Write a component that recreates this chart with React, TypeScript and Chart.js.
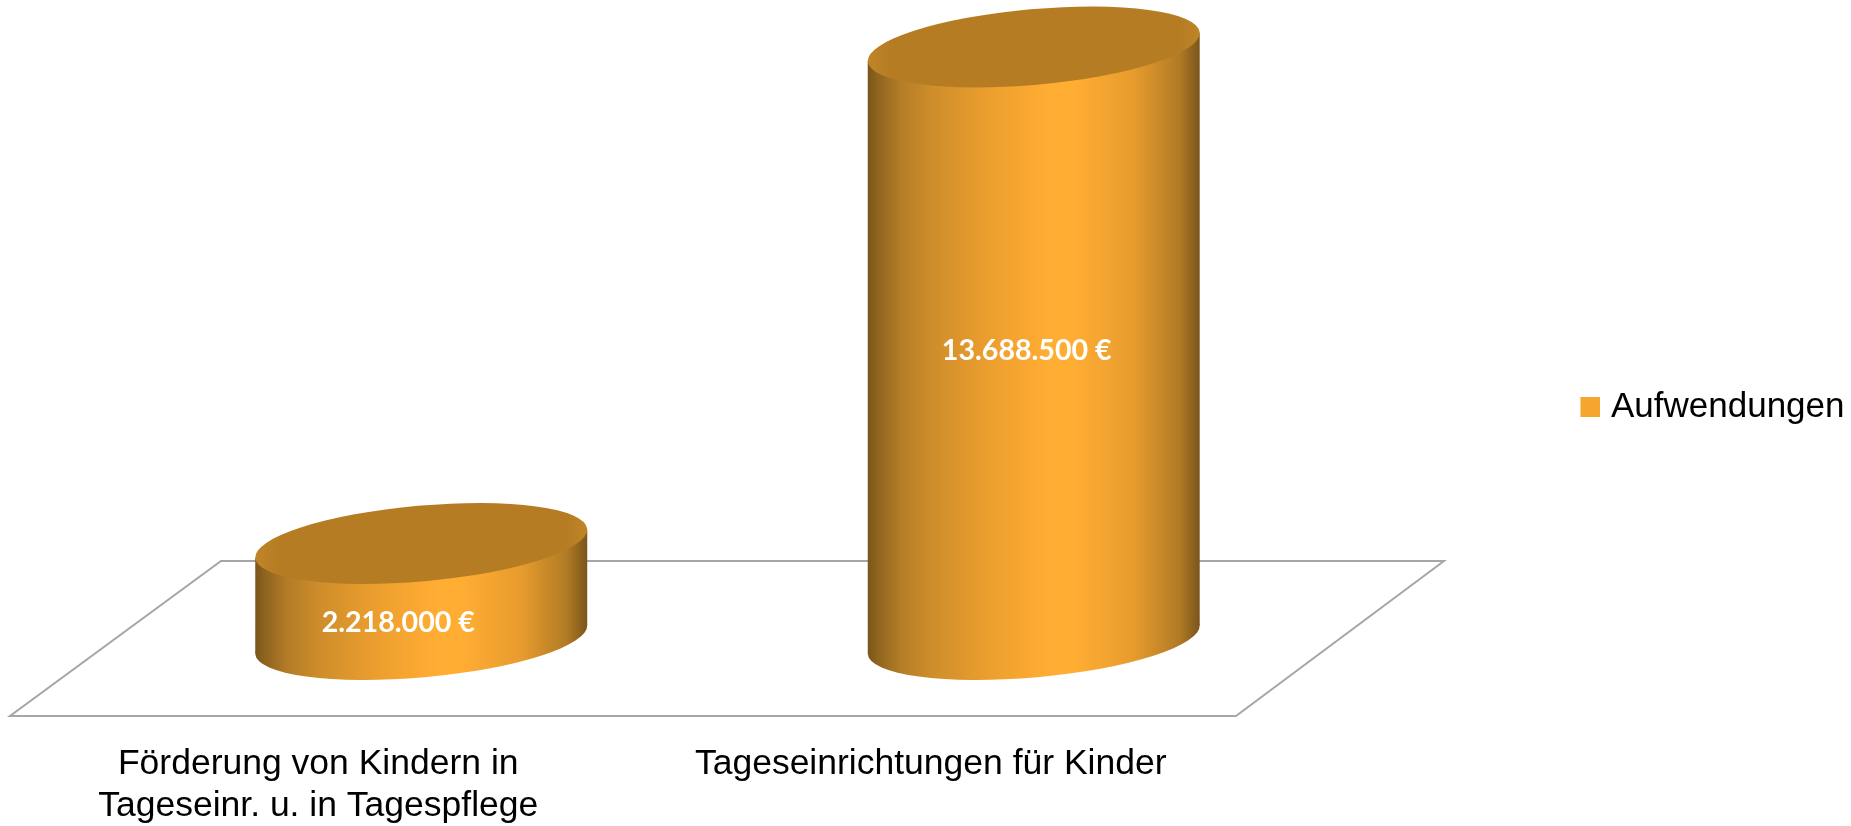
import React, { useEffect, useRef } from "react";
import { Chart, registerables } from "chart.js";

Chart.register(...registerables);

const categories = [
  ["Förderung von Kindern in", "Tageseinr. u. in Tagespflege"],
  "Tageseinrichtungen für Kinder",
];
const seriesName = "Aufwendungen";
const aufwendungen = [2218000, 13688500];
const labelShiftX = [-23, -7];
const labelShiftY = [31, 8];

const SWATCH = "#f4a62f";
const TOP_FILL = "#b67c23";

const FLOOR = { frontOut: 105, backIn: 105, depth: 78.5, drop: 76.5 };
const ELLIPSE = { a: 1.0037, b: 0.228, rot: (-5.08 * Math.PI) / 180, skew: 0.084 };

function wallGradient(ctx: CanvasRenderingContext2D, l: number, r: number) {
  const g = ctx.createLinearGradient(l, 0, r, 0);
  g.addColorStop(0, "#7a551b");
  g.addColorStop(0.03, "#8e641f");
  g.addColorStop(0.1, "#b57d27");
  g.addColorStop(0.2, "#cf8e2b");
  g.addColorStop(0.35, "#ea9d2e");
  g.addColorStop(0.5, "#fba932");
  g.addColorStop(0.55, "#ffad33");
  g.addColorStop(0.62, "#ffad33");
  g.addColorStop(0.8, "#e89c2e");
  g.addColorStop(0.94, "#b07a25");
  g.addColorStop(1, "#7a551b");
  return g;
}

function drawCylinder(ctx: CanvasRenderingContext2D, bar: any) {
  const W = bar.width / 2;
  const a = ELLIPSE.a * W;
  const b = ELLIPSE.b * W;
  const d = ELLIPSE.skew * W;
  const cx = bar.x;
  const topY = bar.y;
  const botY = bar.base;
  ctx.save();
  ctx.fillStyle = wallGradient(ctx, cx - W, cx + W);
  ctx.beginPath();
  ctx.moveTo(cx - W, topY + d);
  ctx.lineTo(cx + W, topY - d);
  ctx.lineTo(cx + W, botY - d);
  ctx.lineTo(cx - W, botY + d);
  ctx.closePath();
  ctx.fill();
  ctx.beginPath();
  ctx.ellipse(cx, botY, a, b, ELLIPSE.rot, 0, Math.PI * 2);
  ctx.fill();
  const tg = ctx.createLinearGradient(cx - W, 0, cx + W, 0);
  tg.addColorStop(0, "#bf8527");
  tg.addColorStop(0.07, TOP_FILL);
  tg.addColorStop(0.94, TOP_FILL);
  tg.addColorStop(1, "#bf8527");
  ctx.fillStyle = tg;
  ctx.beginPath();
  ctx.ellipse(cx, topY, a, b, ELLIPSE.rot, 0, Math.PI * 2);
  ctx.fill();
  ctx.restore();
}

function makeSwatch() {
  const c = document.createElement("canvas");
  c.width = 20;
  c.height = 20;
  const x = c.getContext("2d");
  if (x) {
    x.fillStyle = SWATCH;
    x.fillRect(0, 0, 20, 20);
  }
  return c;
}

const cylinderPlugin = {
  id: "cylinders",
  beforeDatasetsDraw(chart: any) {
    const { ctx, chartArea: ca } = chart;
    ctx.save();
    ctx.strokeStyle = "#a6a6a6";
    ctx.lineWidth = 2;
    ctx.beginPath();
    ctx.moveTo(ca.left - FLOOR.frontOut, ca.bottom + FLOOR.drop);
    ctx.lineTo(ca.right - FLOOR.frontOut + 1, ca.bottom + FLOOR.drop);
    ctx.lineTo(ca.right + FLOOR.backIn - 1, ca.bottom - FLOOR.depth);
    ctx.lineTo(ca.left + FLOOR.backIn + 1, ca.bottom - FLOOR.depth);
    ctx.closePath();
    ctx.stroke();
    ctx.restore();
  },
  beforeDatasetDraw(chart: any, args: any) {
    const meta = chart.getDatasetMeta(args.index);
    meta.data.forEach((bar: any) => drawCylinder(chart.ctx, bar));
    return false;
  },
  afterDatasetsDraw(chart: any) {
    const { ctx } = chart;
    const meta = chart.getDatasetMeta(0);
    ctx.save();
    ctx.fillStyle = "#ffffff";
    ctx.font = "bold 28.6px Lato";
    ctx.textAlign = "center";
    ctx.textBaseline = "middle";
    meta.data.forEach((bar: any, i: number) => {
      const text = aufwendungen[i].toLocaleString("de-DE") + " €";
      ctx.fillText(text, bar.x + labelShiftX[i], (bar.y + bar.base) / 2 + labelShiftY[i]);
    });
    ctx.restore();
  },
  afterLayout(chart: any) {
    chart.scales.x.bottom = chart.height;
  },
};

export default function App() {
  const ref = useRef<HTMLCanvasElement | null>(null);
  useEffect(() => {
    if (!ref.current) return;
    const chart = new Chart(ref.current, {
      type: "bar",
      data: {
        labels: categories as any,
        datasets: [
          {
            label: seriesName,
            data: aufwendungen,
            backgroundColor: SWATCH,
            pointStyle: makeSwatch(),
            categoryPercentage: 1,
            barPercentage: 0.542,
          },
        ],
      },
      plugins: [cylinderPlugin],
      options: {
        animation: false,
        responsive: false,
        layout: { padding: { left: 115, right: -3.5, top: 0, bottom: 11.5 } },
        plugins: {
          tooltip: { enabled: false },
          legend: {
            position: "right",
            align: "center",
            onClick: () => {},
            labels: {
              usePointStyle: true,
              pointStyleWidth: 6,
              boxHeight: 20,
              padding: 7,
              color: "#000000",
              font: { family: "Liberation Sans", size: 35 },
            },
          },
        },
        scales: {
          x: {
            type: "category",
            grid: { display: false },
            border: { display: false },
            ticks: {
              autoSkip: false,
              maxRotation: 0,
              minRotation: 0,
              labelOffset: -103,
              padding: 95,
              color: "#000000",
              font: { family: "Liberation Sans", size: 35.5, lineHeight: 1.2 },
            },
            afterFit(scale: any) {
              scale.height = 175;
            },
          },
          y: {
            position: "right",
            min: 0,
            max: 14774300,
            grid: { display: false },
            border: { display: false },
            ticks: { display: false },
            afterFit(scale: any) {
              scale.width = 240.5;
            },
          },
        },
      } as any,
    });
    return () => chart.destroy();
  }, []);
  return (
    <div style={{ position: "fixed", left: 0, top: 0, width: 1851, height: 826, background: "#fff" }}>
      <canvas ref={ref} width={1851} height={826} style={{ display: "block", filter: "blur(0.6px)" }} />
    </div>
  );
}
